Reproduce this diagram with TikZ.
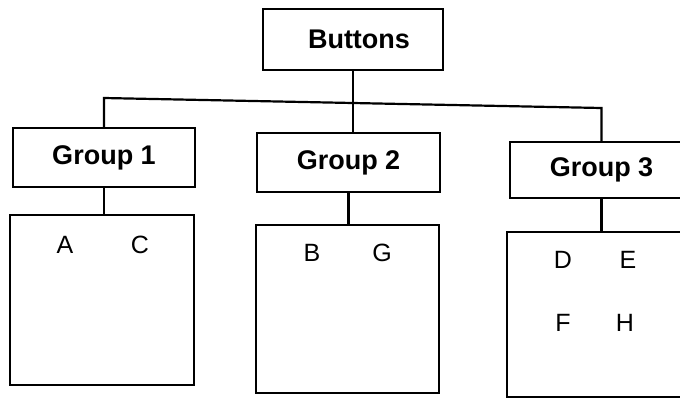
\documentclass[tikz,border=0pt]{standalone}
\usepackage{fontspec}
\setmainfont{Liberation Sans}
\begin{document}
\begin{tikzpicture}[x=1pt,y=-1pt,
  box/.style={draw=black,line width=2.6pt,inner sep=0pt,outer sep=0pt,
    minimum width=#1},
  hbox/.style={box=#1,minimum height=59pt,font=\fontsize{27}{30}\selectfont\bfseries},
  cbox/.style={box=#1},
  letter/.style={inner sep=0pt,font=\fontsize{25}{28}\selectfont},
  conn/.style={line width=2.2pt}]
\clip (0,0) rectangle (680,402);
\fill[white] (0,0) rectangle (680,402);
% top
\node[hbox=180pt,minimum height=61pt] (b) at (353,39.5) {\hspace*{12pt}Buttons};
% groups
\node[hbox=182pt] (g1) at (104,157.5) {Group 1};
\node[hbox=183pt] (g2) at (348.5,162.5) {Group 2};
\node[hbox=183pt,minimum height=56pt] (g3) at (601.5,170) {Group 3};
% content boxes
\node[cbox=184pt,minimum height=170pt] (c1) at (102,300) {};
\node[cbox=183pt,minimum height=168pt] (c2) at (347.5,309) {};
\node[cbox=183pt,minimum height=165pt] (c3) at (598.5,314.5) {};
% tree connectors
\coordinate (hl) at (g1.north |- 0,98);
\coordinate (hm) at (b.south |- 0,100);
\coordinate (hr) at (g3.north |- 0,108);
\draw[conn] (b.south) -- (hm);
\draw[conn] (g1.north) -- (hl) -- (hr) -- (g3.north);
\draw[conn] (hm) -- (hm |- g2.north);
\draw[conn] (g1.south) -- (g1.south |- c1.north);
\draw[conn] (g2.south) -- (g2.south |- c2.north);
\draw[conn] (g3.south) -- (g3.south |- c3.north);
% letters
\node[letter] (la) at (65,245) {A};
\node[letter] (lc) at (140,245) {C};
\node[letter] (lb) at (312,253) {B};
\node[letter] (lg) at (382,253) {G};
\node[letter] (ld) at (563,260) {D};
\node[letter] (le) at (628,260) {E};
\node[letter] (lf) at (563,323) {F};
\node[letter] (lh) at (625,323) {H};
\end{tikzpicture}
\end{document}
